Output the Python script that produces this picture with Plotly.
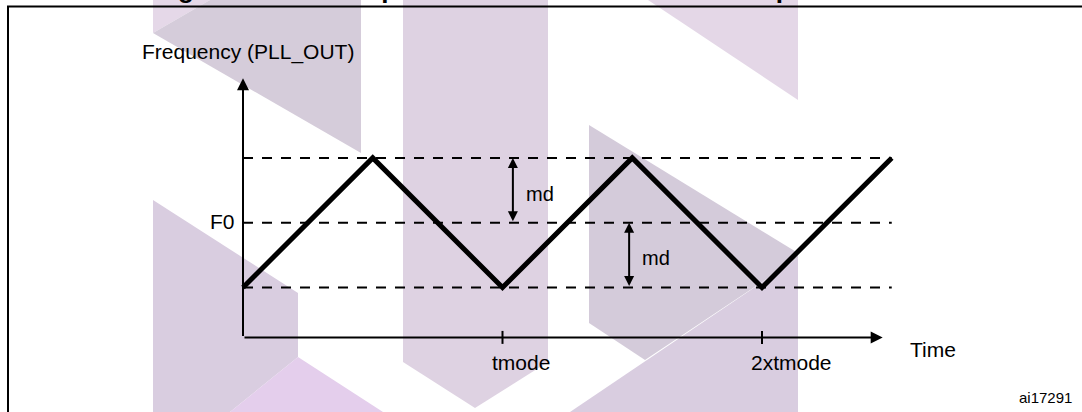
import plotly.graph_objects as go

# Data: triangle-wave PLL output (time in units of tmode, frequency in units of md around F0)
time_pts = [0, 0.5, 1, 1.5, 2, 2.5]
freq_pts = [-1, 1, -1, 1, -1, 1]
F0 = 0
md = 1
levels = [F0 - md, F0, F0 + md]
level_labels = ["", "F0", ""]
tick_vals = [1, 2]
tick_text = ["tmode", "2xtmode"]

W, H = 1082, 412
FONT = "Liberation Sans, Arial, sans-serif"

# axis geometry (data units)
Y_TOP = 2.23
X_AXIS_Y = -1.77
X_END = 2.465

fig = go.Figure()

# dashed reference levels
for lv in levels:
    fig.add_trace(go.Scatter(
        x=[0, time_pts[-1]], y=[lv, lv], mode="lines",
        line=dict(color="black", width=2, dash="10px,9px"),
        hoverinfo="skip", showlegend=False))

# triangle wave
fig.add_trace(go.Scatter(
    x=time_pts, y=freq_pts, mode="lines",
    line=dict(color="black", width=5),
    showlegend=False))


# background watermark (pixel polygons)
def poly(pts):
    return "M " + " L ".join(f"{x / W},{1 - y / H}" for x, y in pts) + " Z"


watermark = [
    ([(153, 0), (210, 0), (153, 33)], "#E5D8E8"),
    ([(210, 0), (361, 0), (361, 153), (153, 33)], "#D5CCDA"),
    ([(153, 200), (298, 293), (298, 357), (230, 412), (153, 412)], "#D9CDE0"),
    ([(298, 357), (383, 412), (230, 412)], "#E4CEEC"),
    ([(403, 0), (548, 0), (548, 362), (475, 408), (403, 362)], "#DED2E2"),
    ([(648, 0), (798, 0), (798, 100)], "#E4D7E7"),
    ([(589, 125), (798, 253), (798, 258), (645, 360), (589, 323)], "#D4CBDA"),
    ([(570, 412), (798, 258), (798, 412)], "#D9CDE0"),
]
shapes = []
for pts, col in watermark:
    shapes.append(dict(type="path", path=poly(pts), xref="paper", yref="paper",
                       fillcolor=col, line=dict(width=0), layer="below"))

# border frame
shapes.append(dict(type="rect", xref="paper", yref="paper",
                   x0=8 / W, x1=1.01, y0=-0.02, y1=1 - 6.5 / H,
                   line=dict(color="black", width=2), layer="above"))

# x ticks
for tv in tick_vals:
    shapes.append(dict(type="line", xref="x", yref="y", x0=tv, x1=tv,
                       y0=X_AXIS_Y - 0.1, y1=X_AXIS_Y + 0.1,
                       line=dict(color="black", width=2)))

annotations = []
# axes with arrows
annotations.append(dict(x=0, y=Y_TOP, ax=0, ay=X_AXIS_Y, xref="x", yref="y",
                        axref="x", ayref="y", text="", showarrow=True,
                        arrowhead=2, arrowwidth=2, arrowsize=1.2, arrowcolor="black",
                        standoff=0))
annotations.append(dict(x=X_END, y=X_AXIS_Y, ax=0, ay=X_AXIS_Y, xref="x", yref="y",
                        axref="x", ayref="y", text="", showarrow=True,
                        arrowhead=2, arrowwidth=2, arrowsize=1.2, arrowcolor="black",
                        standoff=0))

# md double arrows
md_arrows = [(1.04, F0, F0 + md, F0 + md / 2, 1.083),
             (1.488, F0 - md, F0, F0 - md / 2, 1.53)]
for xa, y0, y1, ym, xl in md_arrows:
    annotations.append(dict(x=xa, y=y1, ax=xa, ay=y0, xref="x", yref="y",
                            axref="x", ayref="y", text="", showarrow=True,
                            arrowhead=2, startarrowhead=2, arrowside="end+start",
                            arrowwidth=2, arrowsize=1, startarrowsize=1,
                            arrowcolor="black", standoff=0, startstandoff=0))
    annotations.append(dict(x=xl, y=ym - 0.05, xref="x", yref="y", text="md",
                            showarrow=False, xanchor="left", yanchor="middle",
                            font=dict(family=FONT, size=20, color="black")))

# level label F0
for lv, lab in zip(levels, level_labels):
    if lab:
        annotations.append(dict(x=-0.025, y=lv + 0.02, xref="x", yref="y", text=lab,
                                showarrow=False, xanchor="right", yanchor="middle",
                                font=dict(family=FONT, size=21, color="black")))

# tick labels
for tv, tt in zip(tick_vals, tick_text):
    annotations.append(dict(x=tv - 0.05, y=X_AXIS_Y - 0.38, xref="x", yref="y", text=tt,
                            showarrow=False, xanchor="left", yanchor="middle",
                            font=dict(family=FONT, size=21, color="black")))

# axis titles
annotations.append(dict(x=0.018, y=2.63, xref="x", yref="y", text="Frequency (PLL_OUT)",
                        showarrow=False, xanchor="center", yanchor="middle",
                        font=dict(family=FONT, size=21, color="black")))
annotations.append(dict(x=2.562, y=X_AXIS_Y - 0.19, xref="x", yref="y", text="Time",
                        showarrow=False, xanchor="left", yanchor="middle",
                        font=dict(family=FONT, size=21, color="black")))
annotations.append(dict(x=1017 / W, y=1 - 397 / H, xref="paper", yref="paper", text="ai17291",
                        showarrow=False, xanchor="left", yanchor="middle",
                        font=dict(family=FONT, size=15, color="black")))
# figure caption, mostly cut off at the top edge
annotations.append(dict(x=153 / W, y=1 - 6.5 / H, xref="paper", yref="paper",
                        text="<b>Figure 15. PLL output clock waveforms in center spread mode</b>",
                        showarrow=False, xanchor="left", yanchor="bottom",
                        font=dict(family=FONT, size=26, color="black")))

x0 = -243 / 259.5
x1 = (W - 243) / 259.5
y1 = 222.7 / 64.8
y0 = (222.7 - H) / 64.8

fig.update_layout(
    width=W, height=H,
    margin=dict(l=0, r=0, t=0, b=0, pad=0),
    paper_bgcolor="white", plot_bgcolor="white",
    xaxis=dict(range=[x0, x1], visible=False, fixedrange=True),
    yaxis=dict(range=[y0, y1], visible=False, fixedrange=True),
    shapes=shapes, annotations=annotations,
    showlegend=False,
)

fig.write_html("out.html", config={"displayModeBar": False},
               post_script="document.body.style.margin='0';document.body.style.overflow='hidden';")
